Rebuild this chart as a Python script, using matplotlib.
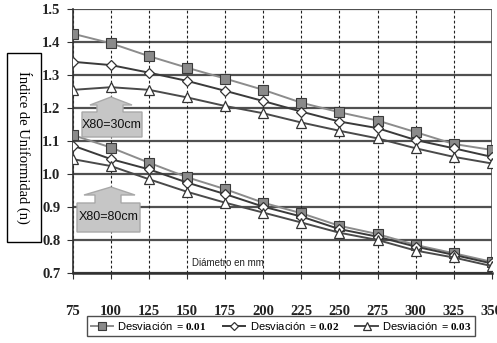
import matplotlib
matplotlib.use('Agg')
import matplotlib.pyplot as plt
from matplotlib.patches import Polygon, Rectangle

# diametro en mm
diam = [75, 100, 125, 150, 175, 200, 225, 250, 275, 300, 325, 350]

# X80 = 30 cm
d01_30 = [1.425, 1.396, 1.357, 1.322, 1.289, 1.255, 1.216, 1.187, 1.162, 1.127, 1.091, 1.073]
d02_30 = [1.340, 1.330, 1.307, 1.282, 1.252, 1.221, 1.189, 1.159, 1.139, 1.103, 1.078, 1.052]
d03_30 = [1.255, 1.263, 1.255, 1.232, 1.206, 1.184, 1.156, 1.131, 1.108, 1.078, 1.052, 1.032]

# X80 = 80 cm
d01_80 = [1.118, 1.080, 1.034, 0.990, 0.954, 0.913, 0.881, 0.843, 0.818, 0.785, 0.760, 0.734]
d02_80 = [1.086, 1.045, 1.014, 0.974, 0.939, 0.901, 0.871, 0.833, 0.810, 0.780, 0.755, 0.729]
d03_80 = [1.045, 1.024, 0.984, 0.946, 0.913, 0.883, 0.853, 0.822, 0.800, 0.768, 0.747, 0.721]

desv = ['0.01', '0.02', '0.03']
yticks = [0.7, 0.8, 0.9, 1.0, 1.1, 1.2, 1.3, 1.4, 1.5]

plt.rcParams['mathtext.fontset'] = 'custom'
plt.rcParams['mathtext.bf'] = 'Liberation Serif:bold'
plt.rcParams['mathtext.rm'] = 'Liberation Serif'

W, H = 497, 343
fig = plt.figure(figsize=(W / 100, H / 100), dpi=100)
ax = fig.add_axes([73 / W, 1 - 273 / H, (491.7 - 73) / W, (273 - 9) / H])

sq = dict(marker='s', ms=7.5, mfc='#8a8a8a', mec='#3a3a3a', mew=0.8, color='#8c8c8c', lw=1.4)
di = dict(marker='D', ms=5, mfc='white', mec='#333333', mew=0.9, color='#3a3a3a', lw=1.4)
tr = dict(marker='^', ms=6.5, mfc='white', mec='#333333', mew=0.9, color='#4a4a4a', lw=1.4)

l1, = ax.plot(diam, d01_30, zorder=5, **sq)
l2, = ax.plot(diam, d02_30, zorder=5, **di)
l3, = ax.plot(diam, d03_30, zorder=5, **tr)
ax.plot(diam, d01_80, zorder=5, **sq)
ax.plot(diam, d02_80, zorder=5, **di)
ax.plot(diam, d03_80, zorder=5, **tr)

ax.set_xlim(75, 350)
ax.set_ylim(0.7, 1.5)
ax.set_xticks(diam)
ax.set_yticks(yticks)
ax.set_yticklabels(['%.1f' % v for v in yticks])

for v in yticks:
    ax.axhline(v, color='#505050', lw=1.6, zorder=1)
for v in diam:
    ax.axvline(v, color='#202020', lw=0.8, ls=(0, (2.5, 2)), zorder=1)
ax.axvline(350, color='#505050', lw=1.2, zorder=1)

for s in ['top', 'right']:
    ax.spines[s].set_visible(False)
ax.spines['left'].set_color('#303030')
ax.spines['left'].set_linewidth(1.2)
ax.spines['bottom'].set_color('#303030')
ax.spines['bottom'].set_linewidth(1.8)

ax.tick_params(axis='x', length=4, pad=19, color='#303030')
ax.tick_params(axis='y', length=4, pad=5, color='#303030')
for t in ax.get_xticklabels() + ax.get_yticklabels():
    t.set_fontfamily('Liberation Serif')
    t.set_fontweight('bold')
    t.set_fontsize(10.5)
    t.set_color('#222222')

fig.text(192 / W, 1 - 263 / H, 'Diámetro en mm', fontsize=7, family='Liberation Sans',
         va='center', ha='left', color='#222222')

# caja del eje y
fig.patches.append(Rectangle((7 / W, 1 - 242 / H), 34 / W, 189 / H, transform=fig.transFigure,
                             fill=False, ec='black', lw=1.0))
fig.text(24 / W, 1 - 147 / H, 'Índice de Uniformidad (n)', rotation=270, ha='center', va='center',
         family='Liberation Serif', fontsize=10.5)


def callout(x0, x1, ytop, ybot, sh0, sh1, hb0, hb1, hy, tipx, tipy, txt):
    pts = [(x0, ybot), (x0, ytop), (sh0, ytop), (sh0, hy), (hb0, hy), (tipx, tipy),
           (hb1, hy), (sh1, hy), (sh1, ytop), (x1, ytop), (x1, ybot)]
    pts = [(x / W, 1 - y / H) for x, y in pts]
    fig.patches.append(Polygon(pts, closed=True, transform=fig.transFigure,
                               fc='#c6c6c6', ec='#a8a8a8', lw=1.0, zorder=3))
    fig.text((x0 + x1) / 2 / W, 1 - (ytop + ybot) / 2 / H, txt, ha='center', va='center',
             family='Liberation Sans', fontsize=9, color='#111111', zorder=4)


callout(82, 142, 112, 137, 97, 123, 90, 132, 105, 111, 97, 'X80=30cm')
callout(77, 140, 203, 232, 95, 121, 84, 135, 195, 111, 187, 'X80=80cm')

labels = ['Desviación $\\mathbf{= %s}$' % d for d in desv]
leg = fig.legend([l1, l2, l3], labels, loc='center', bbox_to_anchor=(281 / W, 1 - 326 / H),
                 ncol=3, frameon=True, fancybox=False, edgecolor='#222222',
                 prop={'family': 'Liberation Sans', 'size': 8}, handlelength=2.0,
                 columnspacing=1.5, borderpad=0.35, handletextpad=0.4, markerscale=0.85)
leg.get_frame().set_linewidth(1.0)

fig.savefig('out.png', dpi=100)
